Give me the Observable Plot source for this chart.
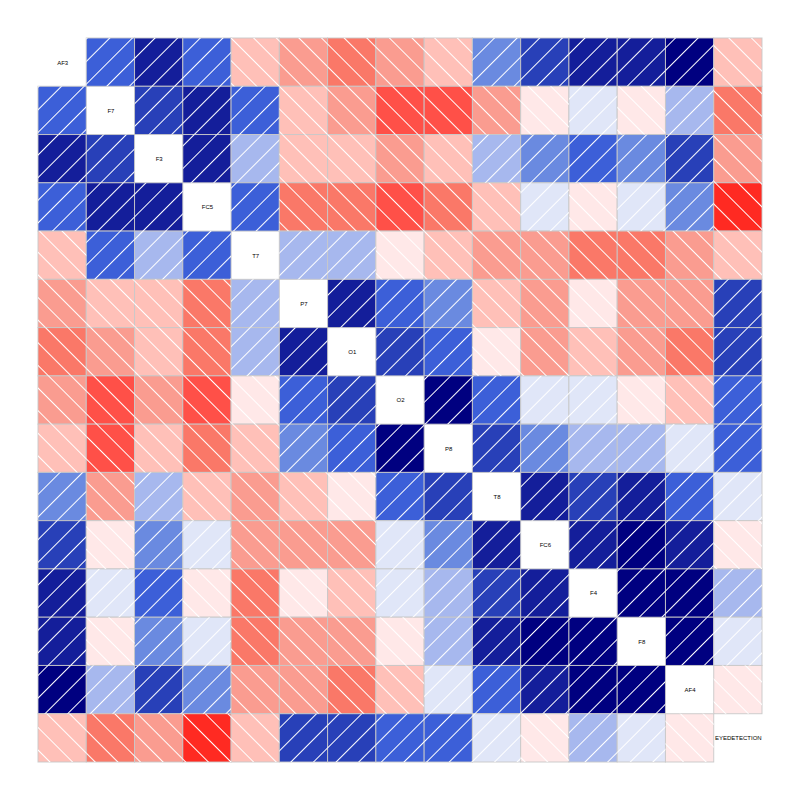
<!DOCTYPE html>
<html>
<head>
<meta charset="utf-8">
<script src="https://cdn.jsdelivr.net/npm/d3@7"></script>
<script src="https://cdn.jsdelivr.net/npm/@observablehq/plot@0.6"></script>
<style>
  html, body { margin: 0; padding: 0; background: #fff; }
</style>
</head>
<body>
<svg width="0" height="0" style="position:absolute">
  <defs>
    <pattern id="hpos" patternUnits="userSpaceOnUse" width="16" height="16" patternTransform="rotate(45)">
      <line x1="8" y1="-1" x2="8" y2="17" stroke="#fff" stroke-width="1" shape-rendering="crispEdges"></line>
    </pattern>
    <pattern id="hneg" patternUnits="userSpaceOnUse" width="16" height="16" patternTransform="rotate(-45)">
      <line x1="8" y1="-1" x2="8" y2="17" stroke="#fff" stroke-width="1" shape-rendering="crispEdges"></line>
    </pattern>
  </defs>
</svg>
<div id="chart"></div>
<script>
const variables = ["AF3","F7","F3","FC5","T7","P7","O1","O2","P8","T8","FC6","F4","F8","AF4","EYEDETECTION"];

// Upper triangle of the correlation matrix, row by row (columns after the diagonal)
const upperRows = [
  [0.50, 0.79, 0.50, -0.21, -0.36, -0.50, -0.36, -0.21, 0.36, 0.64, 0.79, 0.79, 0.93, -0.21],
  [0.64, 0.79, 0.50, -0.21, -0.36, -0.64, -0.64, -0.36, -0.07, 0.07, -0.07, 0.21, -0.50],
  [0.79, 0.21, -0.21, -0.21, -0.36, -0.21, 0.21, 0.36, 0.50, 0.36, 0.64, -0.36],
  [0.50, -0.50, -0.50, -0.64, -0.50, -0.21, 0.07, -0.07, 0.07, 0.36, -0.79],
  [0.21, 0.21, -0.07, -0.21, -0.36, -0.36, -0.50, -0.50, -0.36, -0.21],
  [0.79, 0.50, 0.36, -0.21, -0.36, -0.07, -0.36, -0.36, 0.64],
  [0.64, 0.50, -0.07, -0.36, -0.21, -0.36, -0.50, 0.64],
  [0.93, 0.50, 0.07, 0.07, -0.07, -0.21, 0.50],
  [0.64, 0.36, 0.21, 0.21, 0.07, 0.50],
  [0.79, 0.64, 0.79, 0.50, 0.07],
  [0.79, 0.93, 0.79, -0.07],
  [0.93, 0.93, 0.21],
  [0.93, 0.07],
  [-0.07],
  []
];

const thresholds = [-6/7, -5/7, -4/7, -3/7, -2/7, -1/7, 0, 1/7, 2/7, 3/7, 4/7, 5/7, 6/7];
const colors = ["#c80000","#ff2a22","#ff5048","#fa7868","#fa9c90","#ffc0b8","#ffe8e8",
                "#e0e6f8","#a7b8ee","#6a8ae0","#3c5fd8","#2840b8","#141e9a","#000080"];

const cells = [];
variables.forEach((rv, i) => {
  upperRows[i].forEach((v, k) => {
    const j = i + 1 + k;
    cells.push({row: rv, col: variables[j], value: v});
    cells.push({row: variables[j], col: rv, value: v});
  });
});

const chart = Plot.plot({
  width: 800,
  height: 800,
  margin: 38,
  x: {domain: variables, axis: null, padding: 0, round: false},
  y: {domain: variables, axis: null, padding: 0, round: false},
  color: {type: "threshold", domain: thresholds, range: colors},
  style: {background: "#fff", fontFamily: "Liberation Sans, Arial, sans-serif"},
  marks: [
    Plot.cell(cells, {x: "col", y: "row", fill: "value", stroke: "#c8c8c8", strokeWidth: 1, strokeOpacity: 0.9}),
    Plot.cell(cells.filter(d => d.value > 0), {x: "col", y: "row", fill: "url(#hpos)"}),
    Plot.cell(cells.filter(d => d.value < 0), {x: "col", y: "row", fill: "url(#hneg)"}),
    Plot.text(variables, {x: d => d, y: d => d, text: d => d, fontSize: 6, fill: "black"})
  ]
});
document.getElementById("chart").appendChild(chart);
</script>
</body>
</html>
